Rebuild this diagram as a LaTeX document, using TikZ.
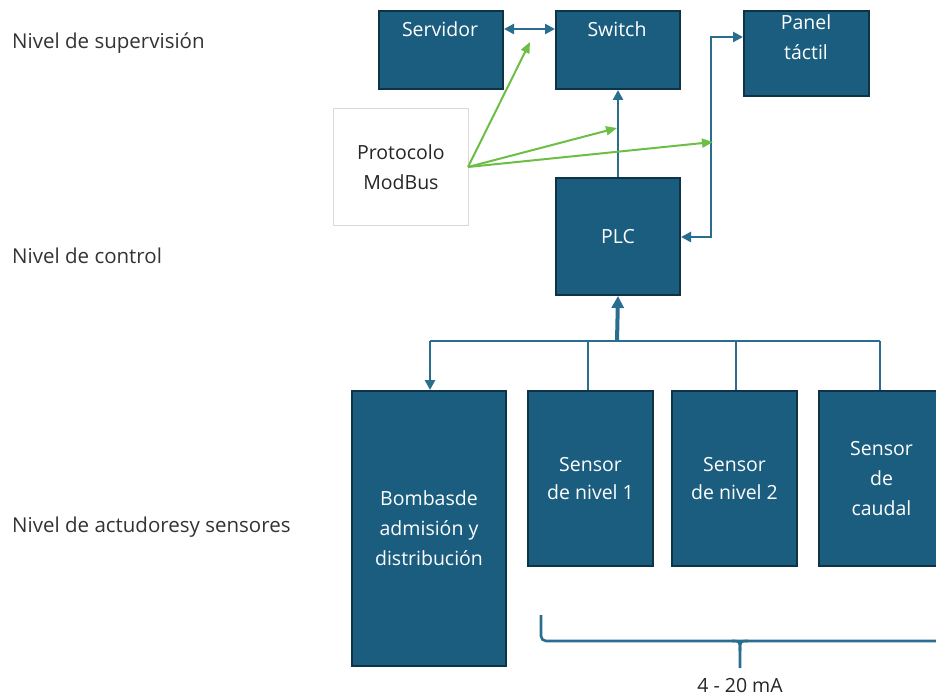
\documentclass[tikz,border=0pt]{standalone}
\usepackage{fontspec}
\setmainfont{Open Sans}
\usetikzlibrary{arrows.meta}
\definecolor{boxfill}{HTML}{1A5D7F}
\definecolor{boxedge}{HTML}{0E3347}
\definecolor{wire}{HTML}{2A6E8F}
\definecolor{mgreen}{HTML}{6CBE45}
\definecolor{lblgray}{HTML}{333333}
\newcommand{\bfs}{\fontsize{19.5}{30}\selectfont}
\tikzset{
  blk/.style={draw=boxedge, line width=2pt, fill=boxfill, text=white, font=\bfs, align=center, inner sep=0pt},
  wtxt/.style={text=white, font=\bfs, align=center, inner sep=0pt},
  lvl/.style={anchor=west, text=lblgray, font=\fontsize{20.5}{24}\selectfont, inner sep=0pt},
  wr/.style={draw=wire, line width=2.6pt},
  tip/.style={-{Triangle[length=10pt,width=10pt]}},
  dtip/.style={{Triangle[length=10pt,width=10pt]}-{Triangle[length=10pt,width=10pt]}},
  gr/.style={draw=mgreen, line width=2pt, -{Triangle[length=11pt,width=9pt]}},
}
\begin{document}
\begin{tikzpicture}[x=1pt,y=-1pt]
\useasboundingbox (0,0) rectangle (936,700);
\clip (0,0) rectangle (936,700);
% level labels
\node[lvl] (l1) at (12,43) {Nivel de supervisión};
\node[lvl] (l2) at (12,256) {Nivel de control};
\node[lvl] (l3) at (12,527) {Nivel de actudoresy sensores};
% boxes
\node[blk, minimum width=124, minimum height=78, anchor=north west] (srv) at (378,10) {};
\node[wtxt] (srvt) at (440,29) {Servidor};
\node[blk, minimum width=124, minimum height=78, anchor=north west] (sw) at (555,10) {};
\node[wtxt] (swt) at (617,29) {Switch};
\node[blk, minimum width=125, minimum height=85, anchor=north west] (pan) at (743,10) {};
\node[wtxt] (pant) at (806,37) {Panel\\táctil};
\node[blk, minimum width=124, minimum height=117, anchor=north west] (plc) at (555,177) {PLC};
\node[draw=black!15, line width=0.8pt, fill=white, minimum width=135, minimum height=117, anchor=north west, align=center, text=black!85, font=\bfs] (mod) at (333,108) {Protocolo\\ModBus};
\node[blk, minimum width=154, minimum height=275, anchor=north west] (bom) at (351,390) {Bombasde\\admisión y\\distribución};
\node[blk, minimum width=125, minimum height=175, anchor=north west, font=\fontsize{19.5}{28}\selectfont] (s1) at (527,390) {Sensor\\de nivel 1};
\node[blk, minimum width=125, minimum height=175, anchor=north west, font=\fontsize{19.5}{28}\selectfont] (s2) at (671,390) {Sensor\\de nivel 2};
\node[blk, minimum width=125, minimum height=175, anchor=north west] (cau) at (818,390) {Sensor\\de\\caudal};
% connectors
\draw[wr, dtip] (srv.east |- 0,29) -- (sw.west |- 0,29);
\draw[wr, tip] (plc.north) -- (sw.south);
\coordinate (pc1) at (711,237);
\coordinate (pc2) at (711,37);
\draw[wr, dtip] (plc.east |- pc1) -- (pc1) -- (pc2) -- (pan.west |- pc2);
% bus
\coordinate (bus) at (617,341);
\coordinate (b0) at (430,341);
\coordinate (b1) at (588,341);
\coordinate (b2) at (736,341);
\coordinate (b3) at (880,341);
\draw[wr, line width=4pt, -{Triangle[length=12pt,width=12pt]}] (bus) -- (plc.south);
\draw[wr] (b0) -- (b3);
\draw[wr, tip] (b0) -- (b0 |- bom.north);
\draw[wr] (b1) -- (b1 |- s1.north);
\draw[wr] (b2) -- (b2 |- s2.north);
\draw[wr] (b3) -- (b3 |- cau.north);
% green arrows
\coordinate (g0) at (468,167);
\draw[gr] (g0) -- (530,42);
\draw[gr] (g0) -- (617,128);
\draw[gr] (g0) -- (713,142);
% brace
\draw[wire, line width=2.6pt, rounded corners=5pt] (541,615) -- (541,641) -- (940,641);
\draw[wire, line width=2.6pt] (732,641) .. controls (740,641) .. (740,651) -- (740,668);
\draw[wire, line width=2.6pt] (748,641) .. controls (740,641) .. (740,651);
\node[text=black!85, font=\fontsize{19.5}{24}\selectfont] (ma) at (740,686) {4 - 20 mA};
\end{tikzpicture}
\end{document}
